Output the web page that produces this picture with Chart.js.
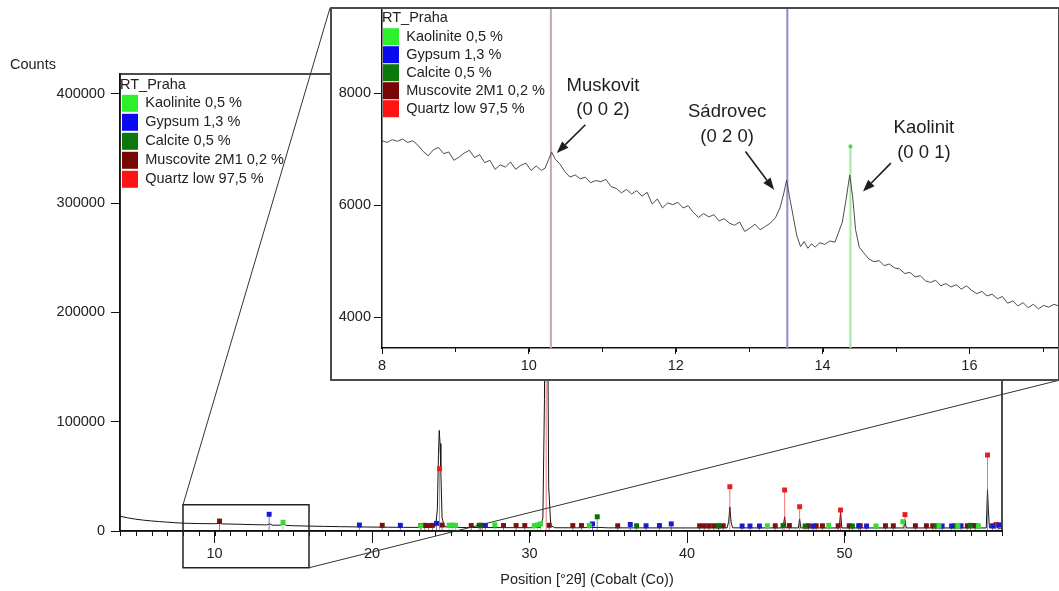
<!DOCTYPE html>
<html><head><meta charset="utf-8">
<script src="https://cdn.jsdelivr.net/npm/chart.js@4.4.1/dist/chart.umd.min.js"></script>
<style>
html,body{margin:0;padding:0;background:#fff;overflow:hidden;}
#wrap{position:relative;width:1059px;height:591px;overflow:hidden;background:#fff;}
#main{position:absolute;left:0;top:0;}
#inset{position:absolute;left:330px;top:7px;}
</style></head><body>
<div id="wrap">
<canvas id="main" width="1059" height="591"></canvas>
<canvas id="inset" width="730" height="374"></canvas>
</div>
<script>
// ---------------- DATA ----------------
const legendTitle = 'RT_Praha';
const phaseNames = ['Kaolinite', 'Gypsum', 'Calcite', 'Muscovite 2M1', 'Quartz low'];
const phasePercent = ['0,5 %', '1,3 %', '0,5 %', '0,2 %', '97,5 %'];

// main pattern (°2θ, counts)
const mainPos = [4.0,4.5,5.0,5.5,6.0,6.5,7.0,7.5,8.0,9.0,10.0,10.3,10.5,11.5,12.5,13.3,13.5,13.7,14.2,14.37,14.55,15.0,16.0,17.0,18.0,19.0,20.0,21.0,22.0,23.0,23.8,24.05,24.15,24.22,24.27,24.32,24.37,24.45,24.6,25.0,26.0,27.0,28.0,29.0,30.0,30.7,30.85,30.95,31.0,31.05,31.1,31.15,31.22,31.35,31.6,33.0,34.3,35.0,37.0,40.0,42.55,42.65,42.72,42.8,42.9,46.1,46.2,46.28,47.07,47.15,47.23,49.67,49.75,49.83,53.76,53.84,53.92,59.0,59.08,59.13,59.2,59.6,59.66,59.72,60.0];
const mainCounts = [13500,12000,10800,9900,9200,8600,8100,7600,7150,6800,6650,6950,6500,6200,5800,5600,6450,5300,5350,6550,5150,4800,4500,4200,3950,3750,3600,3450,3350,3300,3400,5000,20000,70000,92000,80000,55000,12000,4000,3400,3200,3150,3100,3050,3000,3200,12000,120000,300000,390000,340000,200000,40000,5000,3000,2900,3300,2900,2850,2800,2900,9000,22000,8000,2900,2800,13000,2900,2800,11000,2800,2800,17500,2800,2800,10000,2800,2800,38000,20000,2900,2700,6000,2700,2600];

// reference patterns (main chart)
const kaolinitePos = [14.35,23.1,24.9,25.1,25.3,27.8,30.3,30.5,30.7,33.8,45.1,49.0,52.0,53.7,56.0,57.2,58.5];
const kaoliniteCounts = [8000,4800,5200,5400,5200,5600,5000,5600,6500,5200,4800,5200,4600,8500,4800,4600,4800];
const gypsumPos = [13.47,19.2,21.8,24.1,27.2,34.0,36.4,37.4,38.25,39.0,43.5,44.0,44.6,48.0,50.9,51.4,56.2,56.8,57.4,59.4,59.8];
const gypsumCounts = [15300,5500,5200,7000,5000,6500,6000,4800,5000,6500,4600,4600,4600,4600,4800,4600,4600,4600,4800,4800,5600];
const calcitePos = [26.8,27.0,34.3,36.8,42.0,46.1,47.5,50.5,55.8,57.0,58.0];
const calciteCounts = [5200,5200,13000,4800,4600,5000,4600,4600,4800,4800,5200];
const muscovitePos = [10.32,20.65,23.1,23.35,23.6,23.85,24.45,26.3,26.9,28.35,29.15,29.7,31.25,32.75,33.3,35.6,40.8,41.1,41.4,41.7,42.0,42.3,45.6,46.5,47.7,48.2,48.6,49.6,50.3,51.0,52.6,53.1,54.5,55.2,55.6,57.8,58.3];
const muscoviteCounts = [9100,5200,5000,5200,5000,5200,5400,5000,5200,5000,5000,5000,5200,5000,5000,4800,4800,4800,4800,4800,4800,4800,4800,5000,4800,4800,4800,4800,4800,4800,4800,4800,4800,4800,4800,4800,5000];
const quartzPos = [24.29,31.06,42.72,46.2,47.15,49.75,53.84,59.08,59.62];
const quartzCounts = [57000,330000,40500,37500,22200,19200,15000,69500,6000];

// inset pattern 8–17.2 °2θ
const insetPos = [8.00,8.07,8.14,8.21,8.28,8.35,8.42,8.49,8.56,8.63,8.70,8.77,8.84,8.91,8.98,9.05,9.12,9.19,9.26,9.33,9.40,9.47,9.54,9.61,9.68,9.75,9.82,9.89,9.96,10.03,10.10,10.17,10.22,10.27,10.31,10.36,10.42,10.49,10.56,10.63,10.70,10.77,10.84,10.91,10.98,11.05,11.12,11.19,11.26,11.33,11.40,11.47,11.54,11.61,11.68,11.75,11.82,11.89,11.96,12.03,12.10,12.17,12.24,12.31,12.38,12.45,12.52,12.59,12.66,12.73,12.80,12.87,12.94,13.01,13.08,13.15,13.22,13.29,13.36,13.42,13.47,13.51,13.55,13.60,13.65,13.70,13.75,13.80,13.85,13.90,13.96,14.03,14.10,14.17,14.22,14.27,14.32,14.37,14.41,14.45,14.50,14.56,14.63,14.70,14.77,14.84,14.91,14.98,15.05,15.12,15.19,15.26,15.33,15.40,15.47,15.54,15.61,15.68,15.75,15.82,15.89,15.96,16.03,16.10,16.17,16.24,16.31,16.38,16.45,16.52,16.59,16.66,16.73,16.80,16.87,16.94,17.01,17.08,17.15,17.22];
const insetCounts = [7150,7120,7170,7140,7180,7120,7150,7070,6960,6880,6990,7030,6920,6950,6800,6860,6930,6980,6850,6900,6760,6800,6640,6720,6680,6770,6640,6710,6750,6620,6700,6620,6660,6820,6950,6820,6740,6600,6500,6540,6470,6500,6400,6440,6420,6460,6330,6300,6220,6280,6200,6260,6160,6230,6020,6110,5950,6040,6010,6050,5950,5990,5870,5780,5850,5790,5830,5720,5760,5680,5640,5700,5530,5590,5660,5560,5620,5680,5780,5950,6200,6450,6150,5800,5450,5260,5350,5230,5310,5250,5330,5300,5360,5340,5520,5700,6100,6540,6150,5560,5250,5150,5040,4990,5010,4920,4950,4880,4860,4780,4800,4720,4740,4650,4620,4660,4560,4600,4540,4580,4500,4560,4480,4420,4460,4380,4410,4330,4370,4250,4290,4200,4260,4170,4230,4150,4210,4180,4230,4200];

// inset reference lines (Muscovite, Gypsum, Kaolinite)
const insetStickPos = [10.30, 13.52, 14.38];
const insetStickCounts = [12000, 12000, 7050];

// annotations in the inset
const annName = ['Muskovit', 'Sádrovec', 'Kaolinit'];
const annHkl = ['(0 0 2)', '(0 2 0)', '(0 0 1)'];
const annX = [11.01, 12.70, 15.38];
const annNameY = [8130, 7666, 7375];
const annHklY = [7700, 7220, 6929];
const arrowFromX = [10.77, 12.95, 14.93];
const arrowFromY = [7435, 6957, 6750];
const arrowToX = [10.38, 13.34, 14.55];
const arrowToY = [6930, 6273, 6243];

// ticks
const mainXTicks = [10, 20, 30, 40, 50];
const mainYTicks = [0, 100000, 200000, 300000, 400000];
const insetXTicks = [8, 10, 12, 14, 16];
const insetYTicks = [4000, 6000, 8000];

// ---------------- STYLE ----------------
const FONT = "'Liberation Sans', Arial, Helvetica, sans-serif";
Chart.defaults.font.family = FONT;
Chart.defaults.font.size = 14.5;
Chart.defaults.color = '#222';
const legendColors = ['#2cf02c', '#0a0af0', '#0a780a', '#780606', '#ff1414'];
const markColors = ['#33dd33', '#1a1acc', '#0a6e0a', '#7a1010', '#e81e1e'];
const stickColors = ['rgba(51,221,51,0.6)', 'rgba(26,26,204,0.6)', 'rgba(10,110,10,0.6)', 'rgba(122,16,16,0.6)', 'rgba(232,30,30,0.6)'];
const insetStickColors = ['#c6a6ad', '#8c8cd2', '#a0e6a0'];

function stickData(pos, counts, base) {
  const d = [];
  pos.forEach((p, i) => {
    d.push({x: p, y: base});
    d.push({x: p, y: counts[i], cap: true});
    d.push({x: p, y: null});
  });
  return d;
}
function xy(xs, ys) { return xs.map((x, i) => ({x: x, y: ys[i]})); }

function legendOpts(titlePad, itemPad) {
  return {
    display: true, position: 'chartArea', align: 'start',
    title: {display: true, text: legendTitle, position: 'start', color: '#222',
      font: {size: 14.5, lineHeight: 1}, padding: titlePad},
    labels: {
      boxWidth: 16, boxHeight: 17, padding: itemPad, color: '#222', font: {size: 14.5},
      generateLabels: () => phaseNames.map((n, i) => ({
        text: n + ' ' + phasePercent[i], fillStyle: legendColors[i], strokeStyle: legendColors[i],
        lineWidth: 0, hidden: false, datasetIndex: i
      }))
    }
  };
}

const minorTicks = {
  id: 'minorTicks',
  afterDraw(chart, args, opts) {
    const xs = chart.scales.x, ca = chart.chartArea, ctx = chart.ctx;
    ctx.save();
    ctx.strokeStyle = '#111'; ctx.lineWidth = 1;
    for (let v = Math.ceil(xs.min); v <= xs.max; v += opts.step) {
      const px = Math.round(xs.getPixelForValue(v)) + 0.5;
      ctx.beginPath(); ctx.moveTo(px, ca.bottom); ctx.lineTo(px, ca.bottom + opts.length); ctx.stroke();
    }
    ctx.restore();
  }
};

function arrow(ctx, x1, y1, x2, y2) {
  const a = Math.atan2(y2 - y1, x2 - x1), L = 12, W = 4.5;
  const bx = x2 - L * Math.cos(a), by = y2 - L * Math.sin(a);
  ctx.beginPath(); ctx.moveTo(x1, y1); ctx.lineTo(bx, by); ctx.stroke();
  ctx.beginPath(); ctx.moveTo(x2, y2);
  ctx.lineTo(bx + W * Math.sin(a), by - W * Math.cos(a));
  ctx.lineTo(bx - W * Math.sin(a), by + W * Math.cos(a));
  ctx.closePath(); ctx.fill();
}

// ---------------- MAIN CHART ----------------
const insetEl = document.getElementById('inset');
const zoomBox = {xMin: 8, xMax: 16, yMin: -33600, yMax: 24000};

const mainOverlay = {
  id: 'mainOverlay',
  afterDraw(chart) {
    const ctx = chart.ctx, ca = chart.chartArea, xs = chart.scales.x, ys = chart.scales.y;
    ctx.save();
    // frame
    ctx.strokeStyle = '#111'; ctx.lineWidth = 1.5;
    ctx.strokeRect(ca.left, ca.top, ca.right - ca.left, ca.bottom - ca.top);
    // zoom box
    const bl = xs.getPixelForValue(zoomBox.xMin), br = xs.getPixelForValue(zoomBox.xMax);
    const bt = ys.getPixelForValue(zoomBox.yMax), bb = ys.getPixelForValue(zoomBox.yMin);
    ctx.strokeStyle = '#222'; ctx.lineWidth = 1.5;
    ctx.strokeRect(bl, bt, br - bl, bb - bt);
    // connector lines to inset
    const il = insetEl.offsetLeft, it = insetEl.offsetTop + 1;
    const ir = insetEl.offsetLeft + insetEl.width, ib = insetEl.offsetTop + insetEl.height - 1;
    ctx.strokeStyle = '#333'; ctx.lineWidth = 1;
    ctx.beginPath(); ctx.moveTo(bl, bt); ctx.lineTo(il, it); ctx.stroke();
    ctx.beginPath(); ctx.moveTo(br, bb); ctx.lineTo(ir, ib); ctx.stroke();
    // axis titles
    ctx.fillStyle = '#222'; ctx.font = '14.5px ' + FONT; ctx.textBaseline = 'middle';
    ctx.textAlign = 'left';
    ctx.fillText('Counts', 10, ca.top - 9);
    ctx.textAlign = 'center';
    ctx.fillText('Position [°2θ] (Cobalt (Co))', (ca.left + ca.right) / 2 + 26, ca.bottom + 49);
    ctx.restore();
  }
};

const phasePos = [kaolinitePos, gypsumPos, calcitePos, muscovitePos, quartzPos];
const phaseCounts = [kaoliniteCounts, gypsumCounts, calciteCounts, muscoviteCounts, quartzCounts];
const mainDatasets = phaseNames.map((n, i) => ({
  type: 'line', label: n, data: stickData(phasePos[i], phaseCounts[i], 0),
  borderColor: stickColors[i], borderWidth: 1, spanGaps: false,
  pointStyle: 'rect', pointBorderWidth: 0, pointBackgroundColor: markColors[i],
  pointRadius: c => (c.raw && c.raw.cap) ? 3.5 : 0, pointHoverRadius: 0
}));
mainDatasets.push({
  type: 'line', label: 'RT_Praha', data: xy(mainPos, mainCounts),
  borderColor: '#151515', borderWidth: 1, pointRadius: 0, tension: 0
});

new Chart(document.getElementById('main'), {
  type: 'line',
  data: {datasets: mainDatasets},
  plugins: [minorTicks, mainOverlay],
  options: {
    responsive: false, animation: false, events: [], devicePixelRatio: 1,
    layout: {padding: {left: 0, top: 74, right: 57, bottom: 0}},
    plugins: {
      legend: legendOpts({top: 78, bottom: 0.3}, 2),
      tooltip: {enabled: false},
      minorTicks: {step: 1, length: 5}
    },
    scales: {
      x: {
        type: 'linear', min: 4, max: 60,
        afterBuildTicks: s => { s.ticks = mainXTicks.map(v => ({value: v})); },
        afterFit: s => { s.height = 60; },
        grid: {drawOnChartArea: false, tickLength: 12, tickColor: '#111', tickWidth: 1},
        border: {color: '#111', width: 1.5},
        ticks: {padding: 2, maxRotation: 0, autoSkip: false, color: '#222', callback: v => String(v)}
      },
      y: {
        type: 'linear', min: 0, max: 418000,
        afterBuildTicks: s => { s.ticks = mainYTicks.map(v => ({value: v})); },
        afterFit: s => { s.width = 120; },
        grid: {drawOnChartArea: false, tickLength: 9, tickColor: '#111', tickWidth: 1},
        border: {color: '#111', width: 1.5},
        ticks: {padding: 6, autoSkip: false, color: '#222', callback: v => String(v)}
      }
    }
  }
});

// ---------------- INSET CHART ----------------
const insetFrame = {
  id: 'insetFrame',
  beforeDraw(chart) {
    const ctx = chart.ctx;
    ctx.save(); ctx.fillStyle = '#fff'; ctx.fillRect(0, 0, chart.width, chart.height); ctx.restore();
  },
  afterDraw(chart) {
    const ctx = chart.ctx, xs = chart.scales.x, ys = chart.scales.y;
    ctx.save();
    // annotations
    ctx.fillStyle = '#1e1e1e'; ctx.strokeStyle = '#1e1e1e';
    ctx.font = '18.5px ' + FONT; ctx.textAlign = 'center'; ctx.textBaseline = 'middle';
    annName.forEach((t, i) => {
      ctx.fillText(t, xs.getPixelForValue(annX[i]), ys.getPixelForValue(annNameY[i]));
      ctx.fillText(annHkl[i], xs.getPixelForValue(annX[i]), ys.getPixelForValue(annHklY[i]));
      ctx.lineWidth = 1.6;
      arrow(ctx, xs.getPixelForValue(arrowFromX[i]), ys.getPixelForValue(arrowFromY[i]),
        xs.getPixelForValue(arrowToX[i]), ys.getPixelForValue(arrowToY[i]));
    });
    // outer frame
    ctx.strokeStyle = '#4a4a4a'; ctx.lineWidth = 2;
    ctx.strokeRect(1, 1, chart.width - 2, chart.height - 2);
    ctx.restore();
  }
};

const insetDatasets = [{
  type: 'line', label: 'RT_Praha', data: xy(insetPos, insetCounts),
  borderColor: '#4d4d4d', borderWidth: 1, pointRadius: 0, tension: 0
}];
insetStickPos.forEach((p, i) => {
  insetDatasets.push({
    type: 'line', label: 'ref' + i, data: stickData([p], [insetStickCounts[i]], 0),
    borderColor: insetStickColors[i], borderWidth: 2, spanGaps: false,
    pointStyle: 'rect', pointBorderWidth: 0, pointBackgroundColor: '#40d840',
    pointRadius: c => (c.raw && c.raw.cap) ? 2.5 : 0, pointHoverRadius: 0
  });
});

new Chart(insetEl, {
  type: 'line',
  data: {datasets: insetDatasets},
  plugins: [minorTicks, insetFrame],
  options: {
    responsive: false, animation: false, events: [], devicePixelRatio: 1,
    layout: {autoPadding: false, padding: {left: 0, top: 1, right: 1, bottom: 0}},
    plugins: {
      legend: legendOpts({top: 4, bottom: 1.7}, 1),
      tooltip: {enabled: false},
      minorTicks: {step: 1, length: 4}
    },
    scales: {
      x: {
        type: 'linear', min: 8, max: 17.22,
        afterBuildTicks: s => { s.ticks = insetXTicks.map(v => ({value: v})); },
        afterFit: s => { s.height = 33; s.paddingRight = 0; s.paddingLeft = 0; },
        grid: {drawOnChartArea: false, tickLength: 6, tickColor: '#111', tickWidth: 1},
        border: {color: '#111', width: 1.5},
        ticks: {padding: 3, maxRotation: 0, autoSkip: false, color: '#222', callback: v => String(v)}
      },
      y: {
        type: 'linear', min: 3450, max: 9520,
        afterBuildTicks: s => { s.ticks = insetYTicks.map(v => ({value: v})); },
        afterFit: s => { s.width = 52; s.paddingTop = 0; s.paddingBottom = 0; },
        grid: {drawOnChartArea: false, tickLength: 8, tickColor: '#111', tickWidth: 1},
        border: {color: '#111', width: 1.5},
        ticks: {padding: 3, autoSkip: false, color: '#222', callback: v => String(v)}
      }
    }
  }
});
</script>
</body></html>
